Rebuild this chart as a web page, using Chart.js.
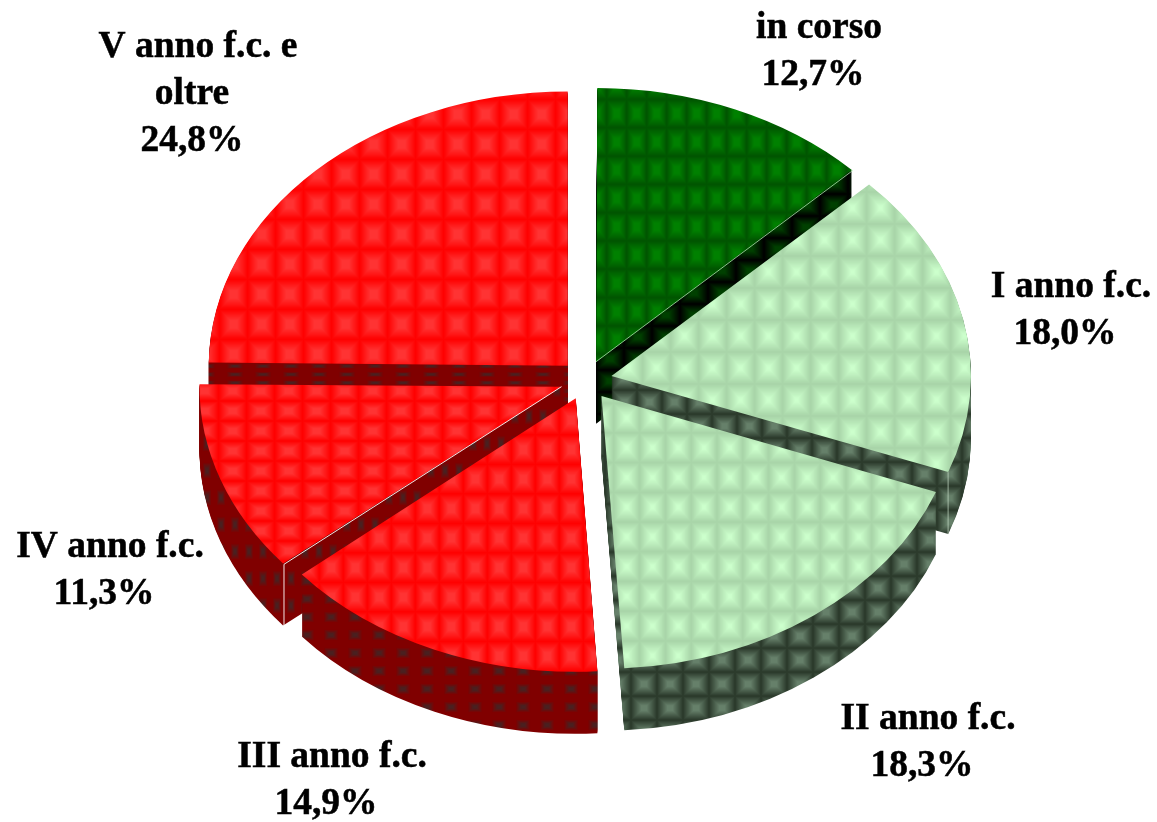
<!DOCTYPE html>
<html>
<head>
<meta charset="utf-8">
<title>Torta</title>
<script src="https://cdn.jsdelivr.net/npm/chart.js@4"></script>
<style>
body{margin:0;background:#fff;}
canvas{display:block;}
</style>
</head>
<body>
<canvas id="miGrafico" width="1157" height="822"></canvas>
<script>
const categorie = ["in corso","I anno f.c.","II anno f.c.","III anno f.c.","IV anno f.c.","V anno f.c. e oltre"];
const percentuali = [12.7,18.0,18.3,14.9,11.3,24.8];
const righeEtichette = [
    ["in corso","12,7%"],
    ["I anno f.c.","18,0%"],
    ["II anno f.c.","18,3%"],
    ["III anno f.c.","14,9%"],
    ["IV anno f.c.","11,3%"],
    ["V anno f.c. e","oltre","24,8%"]
];

// layout of the picture, not data
const posEtichette = [[819,38],[1071,297],[928,729],[332,767],[110,557],[198,57]];
const SQUASH = 0.764, DEPTH = 62, TILE = 56;
const ordine = [0,5,1,4,2,3]; // back to front
const ritoccoRaggio = [-4,2,0,-2,-2,4];

// [bordo, centro, piano, rampa]
const verdeTop = ["#005400","#008000",0,0.75];
const chiaroTop = ["#a8d4a8","#ccffcc",0,0.9];
const rossoTop = ["#ff0000","#ff3333",0,0.75];
const verdeLato = ["#000000","#004000",0,0.8];
const chiaroLato = ["#2a382a","#66806a",0,0.8];
const rossoLato = ["#800000","#4a2020",0.4,0.45];
const coloriTop = [verdeTop,chiaroTop,chiaroTop,rossoTop,rossoTop,rossoTop];
const coloriLato = [verdeLato,chiaroLato,chiaroLato,rossoLato,rossoLato,rossoLato];
// tile size and one grid corner, final pixels
const tileTop = [[20,28.3],[28,32],[25.8,29.7],[24,29.5],[28,20],[28,30]];
const grigliaTop = [[606.7,127.7],[782.7,320],[717,522],[415.3,582.3],[218.7,401],[359.7,159.3]];
const tileLato = [[28,22],[25,24],[26,24],[24,18],[14,27],[28,8.3]];
const grigliaLato = [[596,370],[612,390],[839,600],[391,644],[200,403],[221,362]];

function hex(c){
    return [parseInt(c.substr(1,2),16),parseInt(c.substr(3,2),16),parseInt(c.substr(5,2),16)];
}
function creaTile(st){
    const cv = document.createElement('canvas');
    cv.width = TILE; cv.height = TILE;
    const c = cv.getContext('2d');
    const img = c.createImageData(TILE,TILE);
    const a = hex(st[0]), b = hex(st[1]);
    for(let y=0;y<TILE;y++){
        for(let x=0;x<TILE;x++){
            const u = Math.abs((x+0.5)/TILE*2-1), v = Math.abs((y+0.5)/TILE*2-1);
            const s = Math.max(0,Math.min(1,(1-Math.max(u,v)-st[2])/st[3]));
            const i = (y*TILE+x)*4;
            for(let k=0;k<3;k++) img.data[i+k] = a[k]+(b[k]-a[k])*s;
            img.data[i+3] = 255;
        }
    }
    c.putImageData(img,0,0);
    return cv;
}
const ctx = document.getElementById('miGrafico').getContext('2d');
const patTop = coloriTop.map(c => ctx.createPattern(creaTile(c),'repeat'));
const patLato = coloriLato.map(c => ctx.createPattern(creaTile(c),'repeat'));

// keep the pattern still on the page whatever the transform of the layer
function fase(p,t,g,arc,d){
    const off = arc.options.offset/4;
    const mid = (arc.startAngle+arc.endAngle)/2;
    const ox = Math.cos(mid)*off;
    const oy = arc.y*(1-SQUASH)+Math.sin(mid)*off*SQUASH+d;
    p.setTransform(new DOMMatrix().translate(g[0]-ox,(g[1]-oy)/SQUASH).scale(t[0]/TILE,t[1]/TILE/SQUASH));
}
// point of an arc in final (squashed) pixels
function punto(arc,ang,r){
    const off = arc.options.offset/4;
    const mid = (arc.startAngle+arc.endAngle)/2;
    const rr = r*(arc.outerRadius+off*(1-Math.sin(Math.min(Math.PI,arc.circumference))));
    const x = arc.x+Math.cos(mid)*off+Math.cos(ang)*rr;
    const y = arc.y+Math.sin(mid)*off+Math.sin(ang)*rr;
    return [x,arc.y+(y-arc.y)*SQUASH];
}
function linea(c,a,b,col){
    c.strokeStyle = col; c.lineWidth = 1;
    c.beginPath(); c.moveTo(a[0],a[1]); c.lineTo(b[0],b[1]); c.stroke();
}
function strato(c,fetta,d){
    c.save();
    c.translate(0,fetta.y+d);
    c.scale(1,SQUASH);
    c.translate(0,-fetta.y);
    fetta.draw(c);
    c.restore();
}

const torta3d = {
    id:'torta3d',
    beforeDatasetsDraw(chart){
        const c = chart.ctx;
        const arcs = chart.getDatasetMeta(0).data;
        ordine.forEach(i => {
            const top = Object.create(arcs[i]);
            top.outerRadius = arcs[i].outerRadius+ritoccoRaggio[i];
            const lato = Object.create(top);
            lato.options = Object.assign({},arcs[i].options,{backgroundColor:patLato[i]});
            for(let d=DEPTH;d>0;d--){
                fase(patLato[i],tileLato[i],grigliaLato[i],top,d);
                strato(c,lato,d);
            }
            fase(patTop[i],tileTop[i],grigliaTop[i],top,0);
            strato(c,top,0);
            // thin light edges
            if(i===0){
                linea(c,punto(top,0,0),punto(top,top.endAngle,1),"rgba(170,240,170,0.8)");
            }
            if(i===1){
                const p = punto(top,top.endAngle,1);
                linea(c,p,[p[0],p[1]+DEPTH],"rgba(200,220,200,0.7)");
            }
            if(i===4){
                const p = punto(top,top.startAngle,1);
                linea(c,punto(top,0,0),p,"rgba(255,255,255,0.9)");
                linea(c,p,[p[0],p[1]+DEPTH],"rgba(255,255,255,0.9)");
            }
        });
        return false;
    },
    afterDraw(chart){
        const c = chart.ctx;
        c.save();
        c.fillStyle = "#000";
        c.strokeStyle = "#000";
        c.lineWidth = 0.5;
        c.font = "bold 37.5px 'Liberation Serif'";
        c.textAlign = "center";
        c.textBaseline = "alphabetic";
        righeEtichette.forEach((righe,i) => {
            righe.forEach((t,j) => {
                const x = posEtichette[i][0]-(j>0?6:0), y = posEtichette[i][1]+j*47;
                c.fillText(t,x,y);
                c.strokeText(t,x,y);
            });
        });
        c.restore();
    }
};

new Chart(ctx,{
    type:'pie',
    data:{
        labels:categorie,
        datasets:[{
            data:percentuali,
            backgroundColor:patTop,
            borderWidth:0,
            offset:104,
            hoverOffset:0,
            radius:355
        }]
    },
    options:{
        responsive:false,
        animation:false,
        layout:{padding:{left:15,bottom:62}},
        plugins:{legend:{display:false},tooltip:{enabled:false}}
    },
    plugins:[torta3d]
});
</script>
</body>
</html>
